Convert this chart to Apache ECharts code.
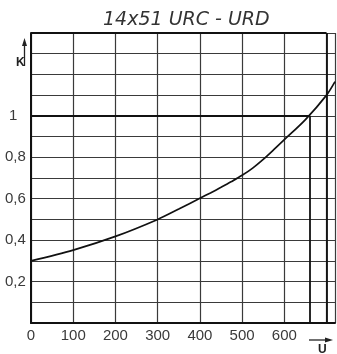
<!DOCTYPE html>
<html><head><meta charset="utf-8">
<script src="https://cdn.jsdelivr.net/npm/echarts@6/dist/echarts.min.js"></script>
<style>html,body{margin:0;padding:0;background:#fff}#c{width:337px;height:354px}</style>
</head><body><div id="c"></div>
<script>
var titleText = '14x51 URC - URD';
var uValues = [0, 100, 200, 300, 350, 400, 425, 450, 475, 500, 525, 550, 575, 600, 650, 700, 720];
var kValues = [0.3, 0.352, 0.418, 0.5, 0.55, 0.602, 0.628, 0.655, 0.683, 0.713, 0.748, 0.79, 0.837, 0.885, 0.982, 1.1, 1.165];
var xTickValues = [0, 100, 200, 300, 400, 500, 600];
var xTickLabels = ['0', '100', '200', '300', '400', '500', '600'];
var yTickValues = [0.2, 0.4, 0.6, 0.8, 1];
var yTickLabels = ['0,2', '0,4', '0,6', '0,8', '1'];
var markerU = 660;
var borderU = 700;
var markerK = 1;
var topK = 1.4;

var chart = echarts.init(document.getElementById('c'));
var gridColor = '#3a3a3a';
chart.setOption({
  animation: false,
  title: {
    text: titleText, left: 103, top: 11, padding: 0,
    textStyle: {fontFamily: 'DejaVu Sans', fontStyle: 'italic', fontWeight: 'normal', fontSize: 19, color: '#333'}
  },
  grid: {left: 31, right: 2, top: 33, bottom: 31},
  xAxis: {
    type: 'value', min: 0, max: 720, interval: 100,
    axisLine: {show: true, lineStyle: {color: '#111', width: 2}},
    axisTick: {show: false},
    axisLabel: {
      color: '#3a3a3a', fontFamily: 'Liberation Sans', fontSize: 15, margin: 5,
      showMaxLabel: false,
      formatter: function (v) { var i = xTickValues.indexOf(v); return i >= 0 ? xTickLabels[i] : ''; }
    },
    splitLine: {show: true, lineStyle: {color: gridColor, width: 1.2}}
  },
  yAxis: {
    type: 'value', min: 0, max: topK, interval: 0.1,
    axisLine: {show: true, lineStyle: {color: '#111', width: 2}},
    axisTick: {show: false},
    axisLabel: {
      color: '#3a3a3a', fontFamily: 'Liberation Sans', fontSize: 15, margin: 26, align: 'left',
      formatter: function (v) {
        for (var i = 0; i < yTickValues.length; i++) {
          if (Math.abs(yTickValues[i] - v) < 1e-6) {
            var s = yTickLabels[i];
            return s.indexOf(',') < 0 ? '{one|' + s + '}' : s;
          }
        }
        return '';
      },
      rich: {one: {padding: [0, 0, 0, 4], fontFamily: 'Liberation Sans', fontSize: 15, color: '#3a3a3a'}}
    },
    splitLine: {show: true, lineStyle: {color: gridColor, width: 1.2}}
  },
  series: [{
    type: 'line', smooth: 0.3, showSymbol: false,
    data: uValues.map(function (u, i) { return [u, kValues[i]]; }),
    lineStyle: {color: '#111', width: 1.7},
    markLine: {
      silent: true, symbol: 'none', label: {show: false},
      data: [
        [{coord: [0, markerK]}, {coord: [markerU, markerK]}],
        [{coord: [markerU, 0]}, {coord: [markerU, markerK]}],
        [{coord: [borderU, 0]}, {coord: [borderU, topK]}],
        [{coord: [0, topK]}, {coord: [borderU, topK]}]
      ],
      lineStyle: {color: '#111', width: 1.8, type: 'solid'}
    }
  }],
  graphic: [
    {type: 'text', left: 16, top: 57, style: {text: 'K', font: 'bold 12px "Liberation Sans"', fill: '#222'}},
    {type: 'line', shape: {x1: 24.5, y1: 66, x2: 24.5, y2: 42}, style: {stroke: '#222', lineWidth: 1.3}},
    {type: 'polygon', shape: {points: [[22, 46], [24.5, 38], [27, 46]]}, style: {fill: '#222'}},
    {type: 'text', left: 318, top: 344, style: {text: 'U', font: 'bold 12px "Liberation Sans"', fill: '#222'}},
    {type: 'line', shape: {x1: 309, y1: 340, x2: 328, y2: 340}, style: {stroke: '#222', lineWidth: 1.3}},
    {type: 'polygon', shape: {points: [[325, 337.5], [333, 340], [325, 342.5]]}, style: {fill: '#222'}}
  ]
});
</script></body></html>
